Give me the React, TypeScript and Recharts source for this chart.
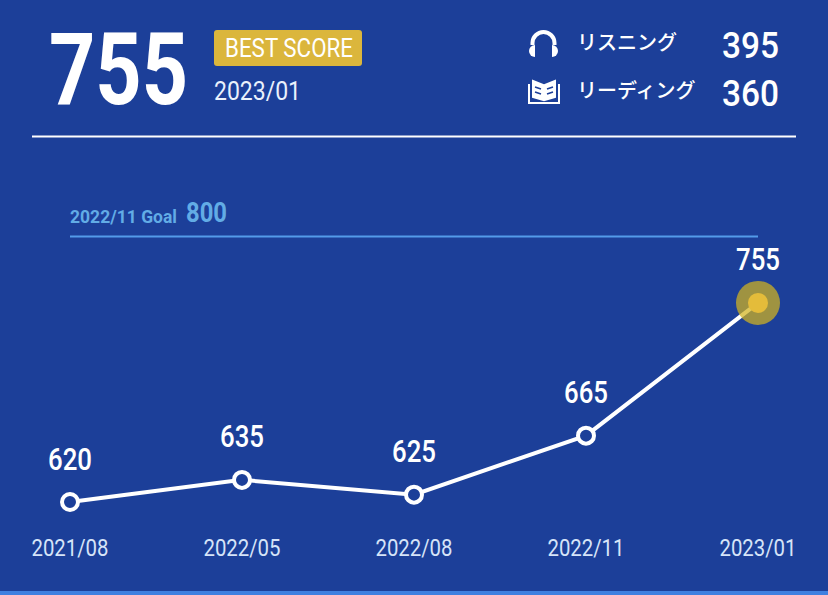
import { LineChart, Line, XAxis, YAxis, ReferenceLine, LabelList } from "recharts";

const months = ["2021/08", "2022/05", "2022/08", "2022/11", "2023/01"];
const scores = [620, 635, 625, 665, 755];
const goalScore = 800;
const goalMonth = "2022/11";
const bestScore = 755;
const bestMonth = "2023/01";
const listening = 395;
const reading = 360;

const data = months.map((month, i) => ({ month, score: scores[i] }));

const BG = "#1C3F99";
const GOLD = "#E4BC3A";
const FONT = "Roboto, sans-serif";

// DIN is not installed, so Roboto gets squeezed to the measured width
function Txt({ x, y, w, size, fill = "#fff", weight = 400, anchor = "start", children }: any) {
  return (
    <text
      x={x}
      y={y}
      fontSize={size}
      fill={fill}
      fontWeight={weight}
      fontFamily={FONT}
      textAnchor={anchor}
      textLength={w}
      lengthAdjust="spacingAndGlyphs"
    >
      {children}
    </text>
  );
}

function MonthTick({ x, y, payload }: any) {
  return (
    <Txt x={x} y={y + 16} w={77} size={23} fill="#D6E4F8" anchor="middle">
      {payload.value}
    </Txt>
  );
}

function ScoreDot({ cx, cy, index }: any) {
  if (index === scores.length - 1) {
    return (
      <g key={index}>
        <circle cx={cx} cy={cy} r={22} fill="#D2B41F" fillOpacity={0.72} />
        <circle cx={cx} cy={cy} r={10} fill={GOLD} />
      </g>
    );
  }
  return <circle key={index} cx={cx} cy={cy} r={8} fill={BG} stroke="#fff" strokeWidth={4} />;
}

function ScoreLabel({ x, y, value }: any) {
  return (
    <Txt x={x} y={y - 32.5} w={44} size={31} anchor="middle" weight={500}>
      {value}
    </Txt>
  );
}

function Header() {
  return (
    <svg width={828} height={240} style={{ position: "absolute", left: 0, top: 0 }}>
      <Txt x={49} y={104} w={139} size={100} weight={700}>
        {bestScore}
      </Txt>
      <rect x={214} y={30} width={148} height={36} rx={3} fill="#DBB63C" />
      <Txt x={225} y={57} w={128} size={25}>
        BEST SCORE
      </Txt>
      <Txt x={214} y={100} w={87} size={26} fill="#EAF1FC">
        {bestMonth}
      </Txt>

      {/* headphones */}
      <path
        d="M532.5 45 V43 A11 11 0 0 1 554.5 43 V45"
        fill="none"
        stroke="#fff"
        strokeWidth={4}
      />
      <path d="M535 45 V57 A6 6 0 0 1 535 45 Z" fill="#fff" />
      <path d="M552 45 V57 A6 6 0 0 0 552 45 Z" fill="#fff" />

      {/* book */}
      <g fill="none" stroke="#fff" strokeWidth={2}>
        <path d="M533 81 L543 85 V100 L533 97 Z" fill="#fff" />
        <path d="M555 81 L545 85 V100 L555 97 Z" fill="#fff" />
        <path d="M529 84 V103 H559 V84" />
      </g>
      <g stroke={BG} strokeWidth={1.6}>
        <path d="M535 87 L541 89 M535 92 L541 94" />
        <path d="M553 87 L547 89 M553 92 L547 94" />
      </g>

      <text x={577} y={50} fontSize={20} fill="#fff" fontWeight={500} fontFamily="'Noto Sans CJK JP'">
        リスニング
      </text>
      <text x={577} y={98} fontSize={20} fill="#fff" fontWeight={500} fontFamily="'Noto Sans CJK JP'">
        リーディング
      </text>
      <Txt x={722} y={58} w={57} size={37} weight={500}>
        {listening}
      </Txt>
      <Txt x={722} y={106} w={57} size={37} weight={500}>
        {reading}
      </Txt>

      <line x1={32} x2={796} y1={136.5} y2={136.5} stroke="#fff" strokeWidth={2} />

      <Txt x={70} y={223} w={107} size={19} fill="#62ACE6" weight={700}>
        {`${goalMonth} Goal`}
      </Txt>
      <Txt x={186} y={222} w={41} size={28} fill="#62ACE6" weight={700}>
        {goalScore}
      </Txt>
    </svg>
  );
}

export default function App() {
  return (
    <div
      style={{
        position: "absolute",
        left: 0,
        top: 0,
        width: 828,
        height: 595,
        background: BG,
        overflow: "hidden",
      }}
    >
      <LineChart
        width={828}
        height={595}
        data={data}
        margin={{ top: 207, right: 70, bottom: 33.5, left: 70 }}
      >
        <XAxis
          dataKey="month"
          height={30}
          interval={0}
          padding={{ left: 0, right: 0 }}
          axisLine={false}
          tickLine={false}
          tick={<MonthTick />}
        />
        <YAxis hide domain={[600, 820]} />
        <ReferenceLine y={goalScore} stroke="#539BEA" strokeWidth={2} />
        <Line
          dataKey="score"
          type="linear"
          stroke="#fff"
          strokeWidth={4}
          dot={(props: any) => <ScoreDot {...props} />}
          isAnimationActive={false}
        >
          <LabelList dataKey="score" content={<ScoreLabel />} />
        </Line>
      </LineChart>
      <Header />
      <div
        style={{
          position: "absolute",
          left: 0,
          top: 591,
          width: 828,
          height: 4,
          background: "#3F7FE0",
        }}
      />
    </div>
  );
}
